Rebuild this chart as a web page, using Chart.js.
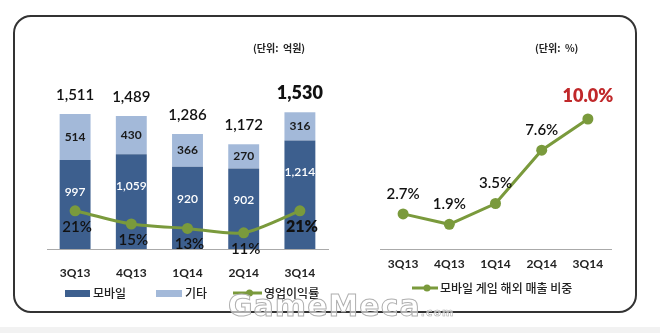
<!DOCTYPE html>
<html>
<head>
<meta charset="utf-8" />
<title>매출 추이</title>
<script src="https://cdn.jsdelivr.net/npm/chart.js@4.4.1/dist/chart.umd.min.js"></script>
<style>
    html, body { margin: 0; padding: 0; background: #fff; }
    #wrap { position: relative; width: 660px; height: 333px; overflow: hidden; }
    #box { position: absolute; left: 13px; top: 15px; width: 620px; height: 294px;
           border: 2px solid #333; border-radius: 18px; }
    #bottomStrip { position: absolute; left: 0; top: 327px; width: 660px; height: 6px; background: #f2f2f2; }
    canvas { position: absolute; left: 0; top: 0; }
    #mark { position: absolute; left: 228px; top: 288px; font: bold 30px "DejaVu Sans", sans-serif;
            color: rgba(255,255,255,0.6); -webkit-text-stroke: 1px #b0b0b0; letter-spacing: 1px; }
    #mark span { font-size: 11px; -webkit-text-stroke: 0.5px #aaa; }
</style>
</head>
<body>
<div id="wrap">
    <div id="bottomStrip"></div>
    <div id="box"></div>
    <canvas id="grafico-vendas" width="660" height="333"></canvas>
    <canvas id="grafico-exterior" width="660" height="333"></canvas>
    <div id="mark">GameMeca<span>.com</span></div>
</div>

<script>
    // dados
    const quarters = ['3Q13', '4Q13', '1Q14', '2Q14', '3Q14'];
    const mobile = [997, 1059, 920, 902, 1214];
    const etc = [514, 430, 366, 270, 316];
    const totals = [1511, 1489, 1286, 1172, 1530];
    const margin = [21, 15, 13, 11, 21];
    const overseas = [2.7, 1.9, 3.5, 7.6, 10.0];

    const FONT = 'Lato, "Noto Sans CJK KR", sans-serif';
    const KFONT = '"Noto Sans CJK KR", sans-serif';
    const DARK = '#3d5f8e';
    const LIGHT = '#a3b9d9';
    const GREEN = '#7a9a3c';
    const RED = '#c0282a';

    Chart.defaults.devicePixelRatio = 1;
    Chart.defaults.animation = false;

    function drawLegendLine(ctx, x, y, w) {
        ctx.strokeStyle = GREEN;
        ctx.lineWidth = 3;
        ctx.beginPath();
        ctx.moveTo(x, y);
        ctx.lineTo(x + w, y);
        ctx.stroke();
        ctx.fillStyle = GREEN;
        ctx.beginPath();
        ctx.arc(x + w / 2 + 2, y, 3.5, 0, Math.PI * 2);
        ctx.fill();
    }

    // rotulos do grafico da esquerda
    const rotulosVendas = {
        id: 'rotulosVendas',
        afterDatasetsDraw(chart) {
            const ctx = chart.ctx;
            const mob = chart.getDatasetMeta(0).data;
            const oth = chart.getDatasetMeta(1).data;
            const lin = chart.getDatasetMeta(2).data;
            ctx.save();
            ctx.textAlign = 'center';
            ctx.textBaseline = 'middle';
            for (let i = 0; i < quarters.length; i++) {
                const last = i === quarters.length - 1;
                // total
                ctx.fillStyle = '#111';
                ctx.font = (last ? '800 18px ' : '600 15px ') + FONT;
                ctx.fillText(totals[i].toLocaleString('en-US'), oth[i].x, oth[i].y - 19);
                // outros
                ctx.font = '700 12px ' + FONT;
                ctx.fillStyle = '#1a1a1a';
                ctx.fillText(etc[i], oth[i].x, (oth[i].y + oth[i].base) / 2);
                // mobile
                ctx.fillStyle = '#fff';
                ctx.font = '600 12px ' + FONT;
                ctx.fillText(mobile[i].toLocaleString('en-US'), mob[i].x, mob[i].y + 32);
                // margem
                ctx.fillStyle = '#111';
                ctx.font = (last ? '800 16px ' : '600 15px ') + FONT;
                ctx.fillText(margin[i] + '%', lin[i].x + 2, lin[i].y + 16);
            }
            // unidade
            ctx.font = '600 10px ' + KFONT;
            ctx.fillStyle = '#222';
            ctx.textAlign = 'left';
            ctx.fillText('(단위:  억원)', 253, 48);

            // legenda
            const ds = chart.data.datasets;
            ctx.font = '500 12px ' + KFONT;
            ctx.fillStyle = DARK;
            ctx.fillRect(65, 290, 25, 7);
            ctx.fillStyle = '#222';
            ctx.fillText(ds[0].label, 93, 293);
            ctx.fillStyle = LIGHT;
            ctx.fillRect(156, 290, 26, 7);
            ctx.fillStyle = '#222';
            ctx.fillText(ds[1].label, 185, 293);
            drawLegendLine(ctx, 233, 293, 29);
            ctx.fillStyle = '#222';
            ctx.fillText(ds[2].label, 264, 293);
            ctx.restore();
        }
    };

    new Chart(document.getElementById('grafico-vendas'), {
        type: 'bar',
        data: {
            labels: quarters,
            datasets: [
                { label: '모바일', data: mobile, backgroundColor: DARK, order: 1, yAxisID: 'y',
                  barPercentage: 0.55, categoryPercentage: 1 },
                { label: '기타', data: etc, backgroundColor: LIGHT, order: 1, yAxisID: 'y',
                  barPercentage: 0.55, categoryPercentage: 1 },
                { label: '영업이익률', type: 'line', data: margin, yAxisID: 'y2', order: 0,
                  borderColor: GREEN, borderWidth: 3, tension: 0.25,
                  pointRadius: 5.5, pointBackgroundColor: GREEN, pointBorderWidth: 0 }
            ]
        },
        options: {
            responsive: false,
            layout: { padding: { left: 47, right: 332, top: 60, bottom: 44 } },
            plugins: { legend: { display: false }, tooltip: { enabled: false } },
            scales: {
                x: {
                    stacked: true,
                    grid: { display: false, drawTicks: false },
                    border: { display: true, color: '#aaa', width: 1 },
                    ticks: { padding: 17, color: '#222', font: { family: FONT, size: 12, weight: '700' } },
                    afterFit(scale) { scale.height = 40; }
                },
                y: { stacked: true, display: false, min: 0, max: 2115 },
                y2: { display: false, min: 3.64, max: 89.55 }
            }
        },
        plugins: [rotulosVendas]
    });

    // rotulos do grafico da direita
    const rotulosExterior = {
        id: 'rotulosExterior',
        afterDatasetsDraw(chart) {
            const ctx = chart.ctx;
            const pts = chart.getDatasetMeta(0).data;
            ctx.save();
            ctx.textAlign = 'center';
            ctx.textBaseline = 'middle';
            for (let i = 0; i < pts.length; i++) {
                const last = i === pts.length - 1;
                ctx.fillStyle = last ? RED : '#111';
                ctx.font = (last ? '800 18px ' : '600 15px ') + FONT;
                ctx.fillText(overseas[i].toFixed(1) + '%', pts[i].x, pts[i].y - (last ? 23 : 20));
            }
            ctx.font = '600 10px ' + KFONT;
            ctx.fillStyle = '#222';
            ctx.textAlign = 'left';
            ctx.fillText('(단위:  %)', 535, 48);

            drawLegendLine(ctx, 412, 288, 26);
            ctx.font = '500 12px ' + KFONT;
            ctx.fillStyle = '#222';
            ctx.fillText(chart.data.datasets[0].label, 440, 288);
            ctx.restore();
        }
    };

    new Chart(document.getElementById('grafico-exterior'), {
        type: 'line',
        data: {
            labels: quarters,
            datasets: [
                { label: '모바일 게임 해외 매출 비중', data: overseas,
                  borderColor: GREEN, borderWidth: 3, tension: 0,
                  pointRadius: 5.5, pointBackgroundColor: GREEN, pointBorderWidth: 0 }
            ]
        },
        options: {
            responsive: false,
            layout: { padding: { left: 380, right: 49, top: 60, bottom: 44 } },
            plugins: { legend: { display: false }, tooltip: { enabled: false } },
            scales: {
                x: {
                    offset: true,
                    grid: { display: false, drawTicks: false },
                    border: { display: true, color: '#aaa', width: 1 },
                    ticks: { padding: 8, color: '#222', font: { family: FONT, size: 12, weight: '700' } },
                    afterFit(scale) { scale.height = 40; }
                },
                y: { display: false, min: 0, max: 14.54 }
            }
        },
        plugins: [rotulosExterior]
    });
</script>
</body>
</html>
